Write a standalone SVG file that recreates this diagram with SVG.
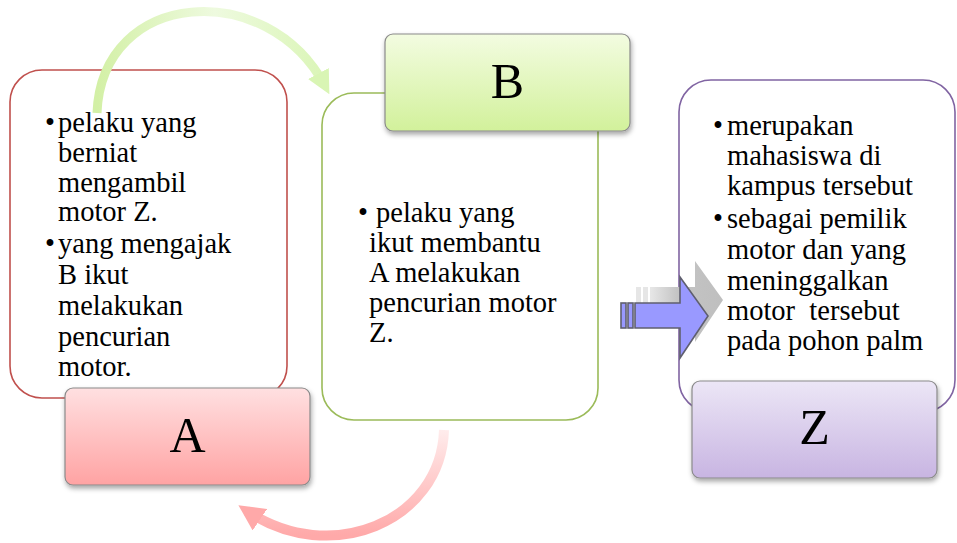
<svg xmlns="http://www.w3.org/2000/svg" width="957" height="543" viewBox="0 0 957 543">
  <defs>
    <style>
      .txt { font-family: "Liberation Serif", "Times New Roman", serif; font-size: 28.5px; fill: #000; }
      .big { font-family: "Liberation Serif", "Times New Roman", serif; font-size: 50px; fill: #000; text-anchor: middle; }
      .box { fill: #fff; stroke-width: 1.6; }
      .lbl { stroke: #8a8a8a; stroke-width: 1.2; filter: url(#sh); }
    </style>
    <filter id="sh" x="-10%" y="-10%" width="130%" height="140%">
      <feDropShadow dx="1" dy="3" stdDeviation="2.5" flood-color="#000" flood-opacity="0.35"/>
    </filter>
    <linearGradient id="gA" x1="0" y1="0" x2="0" y2="1">
      <stop offset="0" stop-color="#ffe0e1"/>
      <stop offset="1" stop-color="#ffa3a3"/>
    </linearGradient>
    <linearGradient id="gB" x1="0" y1="0" x2="0" y2="1">
      <stop offset="0" stop-color="#f3fce1"/>
      <stop offset="1" stop-color="#d2f19b"/>
    </linearGradient>
    <linearGradient id="gZ" x1="0" y1="0" x2="0" y2="1">
      <stop offset="0" stop-color="#ece6f6"/>
      <stop offset="1" stop-color="#c8b5e2"/>
    </linearGradient>
    <linearGradient id="gTop" gradientUnits="userSpaceOnUse" x1="97" y1="0" x2="333" y2="0">
      <stop offset="0" stop-color="#d3f0a6"/>
      <stop offset="0.5" stop-color="#eefadf"/>
      <stop offset="1" stop-color="#d9f5b4"/>
    </linearGradient>
    <linearGradient id="gBot" gradientUnits="userSpaceOnUse" x1="0" y1="430" x2="0" y2="535">
      <stop offset="0" stop-color="#ffecec"/>
      <stop offset="1" stop-color="#ffa9a9"/>
    </linearGradient>
    <linearGradient id="gShadow" gradientUnits="userSpaceOnUse" x1="636" y1="0" x2="724" y2="0">
      <stop offset="0" stop-color="#e6e6e6"/>
      <stop offset="0.3" stop-color="#c4c4c4"/>
      <stop offset="1" stop-color="#bdbdbd"/>
    </linearGradient>
    <marker id="mTop" viewBox="0 0 10 10" refX="6" refY="5" markerWidth="2.6" markerHeight="2.6" orient="auto" markerUnits="strokeWidth">
      <path d="M0,0 L10,5 L0,10 z" fill="#d9f5b4"/>
    </marker>
    <marker id="mBot" viewBox="0 0 10 10" refX="6" refY="5" markerWidth="2.6" markerHeight="2.6" orient="auto" markerUnits="strokeWidth">
      <path d="M0,0 L10,5 L0,10 z" fill="#ffa9a9"/>
    </marker>
  </defs>

  <rect width="957" height="543" fill="#fff"/>

  <!-- Node A -->
  <g id="nodeA">
    <rect class="box" x="10" y="70" width="277" height="328" rx="32" stroke="#c0504d"/>
    <text class="txt" x="45" y="132">•</text>
    <text class="txt" x="58" y="132">pelaku yang</text>
    <text class="txt" x="58" y="162">berniat</text>
    <text class="txt" x="58" y="192">mengambil</text>
    <text class="txt" x="58" y="221">motor Z.</text>
    <text class="txt" x="45" y="253">•</text>
    <text class="txt" x="58" y="253">yang mengajak</text>
    <text class="txt" x="58" y="284">B ikut</text>
    <text class="txt" x="58" y="315">melakukan</text>
    <text class="txt" x="58" y="346">pencurian</text>
    <text class="txt" x="58" y="376">motor.</text>
    <rect class="lbl" x="65" y="388" width="245" height="97" rx="8" fill="url(#gA)"/>
    <text class="big" x="187.5" y="452">A</text>
  </g>

  <!-- Node B -->
  <g id="nodeB">
    <rect class="box" x="322" y="93" width="276" height="327" rx="32" stroke="#9bbb59"/>
    <text class="txt" x="358" y="222">•</text>
    <text class="txt" x="376" y="222">pelaku yang</text>
    <text class="txt" x="369" y="252">ikut membantu</text>
    <text class="txt" x="369" y="282">A melakukan</text>
    <text class="txt" x="369" y="312">pencurian motor</text>
    <text class="txt" x="369" y="342">Z.</text>
    <rect class="lbl" x="385" y="34" width="245" height="97" rx="8" fill="url(#gB)"/>
    <text class="big" x="507.5" y="98">B</text>
  </g>

  <!-- Node Z -->
  <g id="nodeZ">
    <rect class="box" x="679" y="80" width="276" height="332" rx="32" stroke="#8064a2"/>
    <text class="txt" x="713" y="135">•</text>
    <text class="txt" x="727" y="135">merupakan</text>
    <text class="txt" x="727" y="165">mahasiswa di</text>
    <text class="txt" x="727" y="195">kampus tersebut</text>
    <text class="txt" x="713" y="228">•</text>
    <text class="txt" x="727" y="228">sebagai pemilik</text>
    <text class="txt" x="727" y="259">motor dan yang</text>
    <text class="txt" x="727" y="290">meninggalkan</text>
    <text class="txt" x="727" y="320" xml:space="preserve">motor  tersebut</text>
    <text class="txt" x="727" y="350">pada pohon palm</text>
    <rect class="lbl" x="692" y="381" width="245" height="97" rx="8" fill="url(#gZ)"/>
    <text class="big" x="814.5" y="444">Z</text>
  </g>

  <!-- Connectors -->
  <g id="connectors">
    <path d="M97,113 C102,-12 268,-22 325,86" fill="none" stroke="url(#gTop)" stroke-width="9" marker-end="url(#mTop)"/>
    <path d="M444,430 C441,522 330,567 247,511" fill="none" stroke="url(#gBot)" stroke-width="10" marker-end="url(#mBot)"/>
    <g id="bigArrow">
      <g transform="translate(15,-16)" fill="url(#gShadow)">
        <rect x="621" y="303" width="5" height="25"/>
        <rect x="628" y="303" width="5" height="25"/>
        <path d="M635,303 L680,303 L680,277 L708,316 L680,358 L680,328 L635,328 z"/>
      </g>
      <g fill="#9999ff" stroke="#5f5f6f" stroke-width="1.6" stroke-linejoin="miter">
        <rect x="621" y="303" width="5" height="25"/>
        <rect x="628" y="303" width="5" height="25"/>
        <path d="M635,303 L680,303 L680,277 L708,316 L680,358 L680,328 L635,328 z"/>
      </g>
    </g>
  </g>
</svg>
